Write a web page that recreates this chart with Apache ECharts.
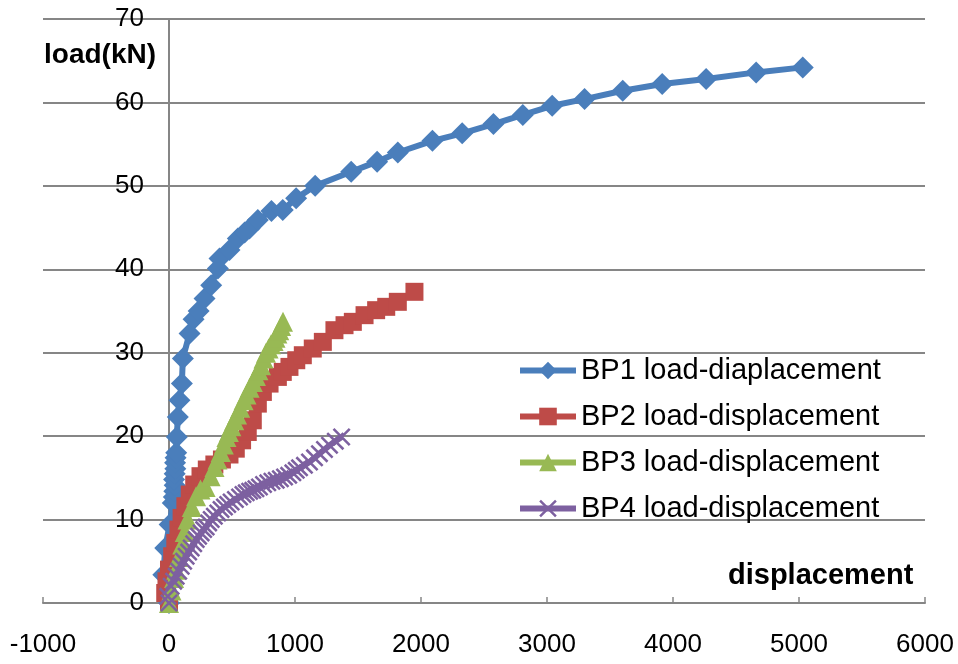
<!DOCTYPE html>
<html>
<head>
<meta charset="utf-8">
<script src="https://cdn.jsdelivr.net/npm/echarts@6/dist/echarts.min.js"></script>
<style>
  html, body { margin: 0; padding: 0; background: #fff; }
  #chart { width: 958px; height: 664px; }
</style>
</head>
<body>
<div id="chart"></div>
<script>
// series names
const seriesNames = [
  'BP1 load-diaplacement',
  'BP2 load-displacement',
  'BP3 load-displacement',
  'BP4 load-displacement'
];

// BP1 (displacement, load)
const bp1Disp = [0, -45, -30, 5, 30, 38, 42, 45, 40, 45, 50, 48, 52, 57, 62, 70, 83, 102, 110, 163, 195, 235, 282, 335, 388, 401, 480, 546, 600, 639, 705, 813, 903, 1009, 1160, 1446, 1652, 1816, 2091, 2327, 2575, 2808, 3041, 3298, 3601, 3914, 4263, 4660, 5030];
const bp1Load = [0, 3.4, 6.6, 9.4, 12.0, 12.7, 13.4, 14.1, 14.8, 15.5, 16.1, 16.8, 17.4, 18.0, 19.9, 22.3, 24.3, 26.3, 29.3, 32.3, 34.0, 35.0, 36.5, 38.1, 40.1, 41.3, 42.3, 43.7, 44.4, 44.9, 45.9, 47.0, 47.1, 48.5, 50.0, 51.7, 52.9, 54.0, 55.4, 56.3, 57.4, 58.5, 59.6, 60.4, 61.4, 62.2, 62.8, 63.6, 64.2];

// BP2
const bp2Disp = [0, -30, -20, 0, 25, 50, 75, 100, 130, 165, 200, 250, 300, 360, 420, 480, 530, 580, 625, 665, 705, 745, 798, 864, 903, 956, 1010, 1062, 1141, 1221, 1313, 1393, 1459, 1552, 1644, 1724, 1816, 1948];
const bp2Load = [0, 1.2, 2.6, 4.0, 5.6, 7.2, 8.8, 10.2, 11.6, 13.0, 14.2, 15.2, 16.0, 16.6, 17.2, 17.8, 18.5, 19.5, 20.5, 21.9, 23.9, 25.3, 26.3, 27.1, 27.7, 28.3, 29.1, 29.7, 30.5, 31.3, 32.7, 33.3, 33.7, 34.5, 35.1, 35.5, 36.1, 37.3];

// BP3
const bp3Disp = [0, 20, 40, 57, 80, 105, 125, 147, 180, 215, 250, 290, 330, 361, 385, 410, 435, 456, 475, 495, 518, 540, 565, 592, 615, 640, 665, 690, 710, 730, 750, 770, 790, 810, 830, 845, 860, 875, 890, 905];
const bp3Load = [0, 1.5, 3.0, 4.0, 5.5, 7.0, 8.5, 10.0, 11.5, 12.8, 13.6, 13.9, 15.2, 16.3, 17.2, 18.1, 19.0, 19.9, 20.5, 21.2, 21.9, 22.6, 23.4, 24.3, 25.0, 25.8, 26.5, 27.2, 27.9, 28.5, 29.3, 30.0, 30.5, 31.0, 31.4, 31.8, 32.3, 32.7, 33.2, 33.7];

// BP4
const bp4Disp = [0, -10, 17, 37, 57, 77, 97, 116, 136, 156, 176, 196, 216, 235, 255, 275, 295, 315, 335, 360, 387, 413, 440, 466, 493, 527, 560, 587, 613, 640, 665, 690, 718, 750, 784, 817, 851, 884, 917, 950, 983, 1010, 1036, 1075, 1115, 1155, 1194, 1234, 1274, 1320, 1370];
const bp4Load = [0, 0.8, 2.0, 2.6, 3.2, 3.8, 4.4, 5.0, 5.6, 6.1, 6.6, 7.1, 7.6, 8.0, 8.4, 8.8, 9.1, 9.6, 10.0, 10.4, 10.8, 11.2, 11.5, 11.8, 12.1, 12.4, 12.7, 13.0, 13.2, 13.4, 13.5, 13.7, 13.9, 14.2, 14.4, 14.6, 14.7, 14.9, 15.1, 15.3, 15.6, 15.9, 16.2, 16.5, 16.9, 17.4, 17.9, 18.4, 18.9, 19.4, 19.9];

const xTicks = { min: -1000, max: 6000, step: 1000 };
const yTicks = { min: 0, max: 70, step: 10 };

const font = "'Liberation Sans', Arial, sans-serif";
const crossPath = 'path://M0,1L1,0L5,4L9,0L10,1L6,5L10,9L9,10L5,6L1,10L0,9L4,5Z';

const pairs = (xs, ys) => xs.map((x, i) => [x, ys[i]]);

const chart = echarts.init(document.getElementById('chart'));

const mkSeries = (name, data, color, symbol, size) => ({
  name: name,
  type: 'line',
  data: data,
  symbol: symbol,
  symbolSize: size,
  showSymbol: true,
  animation: false,
  lineStyle: { color: color, width: 6 },
  itemStyle: { color: color, opacity: 1 },
  emphasis: { disabled: true }
});

const option = {
  animation: false,
  backgroundColor: '#ffffff',
  textStyle: { fontFamily: font },
  grid: { left: 43, right: 33, top: 19, bottom: 61, containLabel: false, outerBoundsMode: 'none' },
  xAxis: {
    type: 'value',
    min: xTicks.min,
    max: xTicks.max,
    interval: xTicks.step,
    axisLine: { show: true, onZero: true, lineStyle: { color: '#868686', width: 2 } },
    axisTick: { show: true, inside: true, length: 6, lineStyle: { color: '#868686', width: 1.5 } },
    axisLabel: { fontSize: 26, color: '#000', margin: 29, fontFamily: font, formatter: v => String(v) },
    splitLine: { show: false }
  },
  yAxis: {
    type: 'value',
    min: yTicks.min,
    max: yTicks.max,
    interval: yTicks.step,
    axisLine: { show: true, onZero: true, lineStyle: { color: '#868686', width: 2 } },
    axisTick: { show: false },
    // labels sit just left of the y axis, which crosses at x = 0
    axisLabel: { fontSize: 26, color: '#000', margin: -101, fontFamily: font, formatter: v => String(v) },
    splitLine: { show: true, lineStyle: { color: '#868686', width: 2 } }
  },
  legend: {
    orient: 'vertical',
    left: 512,
    top: 350,
    itemWidth: 56,
    itemHeight: 22,
    itemGap: 15,
    lineStyle: { width: 6 },
    textStyle: { fontSize: 29, color: '#000', fontFamily: font, lineHeight: 31 },
    data: seriesNames
  },
  graphic: [
    {
      type: 'text',
      left: 44,
      top: 41,
      style: { text: 'load(kN)', font: "bold 28px 'Liberation Sans', Arial", fill: '#000' }
    },
    {
      type: 'text',
      left: 728,
      top: 561,
      style: { text: 'displacement', font: "bold 29px 'Liberation Sans', Arial", fill: '#000' }
    }
  ],
  series: [
    mkSeries(seriesNames[0], pairs(bp1Disp, bp1Load), '#4a7ebb', 'diamond', 22),
    mkSeries(seriesNames[1], pairs(bp2Disp, bp2Load), '#be4b48', 'rect', 18),
    mkSeries(seriesNames[2], pairs(bp3Disp, bp3Load), '#98b954', 'triangle', 20),
    mkSeries(seriesNames[3], pairs(bp4Disp, bp4Load), '#7d60a0', crossPath, 18)
  ]
};

chart.setOption(option);
</script>
</body>
</html>
